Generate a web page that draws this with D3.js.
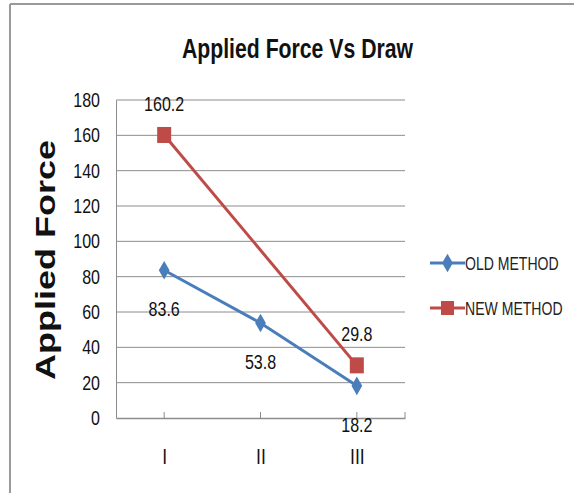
<!DOCTYPE html>
<html>
<head>
<meta charset="utf-8">
<script src="https://cdn.jsdelivr.net/npm/d3@7"></script>
<style>
  html, body { margin: 0; padding: 0; background: #fff; }
  svg { display: block; }
</style>
</head>
<body>
<svg id="chart" width="574" height="493"></svg>
<script>
// Chart data
const categories = ["I", "II", "III"];
const oldMethod = [83.6, 53.8, 18.2];
const newMethod = [160.2, null, 29.8];
const yTicks = [0, 20, 40, 60, 80, 100, 120, 140, 160, 180];
const seriesNames = ["OLD METHOD", "NEW METHOD"];

const SANS = "'Liberation Sans', Arial, sans-serif";
const BLUE = "#4a7ebb";
const RED = "#be4b48";

const svg = d3.select("#chart");

// Squeeze text horizontally to get a condensed look
function condense(sel, factor) {
  sel.each(function () {
    const w = this.getComputedTextLength();
    d3.select(this).attr("textLength", (w * factor).toFixed(1))
      .attr("lengthAdjust", "spacingAndGlyphs");
  });
}

// Outer frame (top and left edges)
svg.append("line").attr("x1", 10).attr("x2", 574).attr("y1", 4).attr("y2", 4)
  .attr("stroke", "#9a9a9a").attr("stroke-width", 2);
svg.append("line").attr("x1", 10).attr("x2", 10).attr("y1", 4).attr("y2", 493)
  .attr("stroke", "#9a9a9a").attr("stroke-width", 2);

const x = d3.scalePoint().domain(categories).range([116, 405]).padding(0.5);
const y = d3.scaleLinear().domain([0, 180]).range([418, 100]);

// Horizontal gridlines
svg.append("g").selectAll("line").data(yTicks.filter(t => t > 0)).join("line")
  .attr("x1", 116).attr("x2", 405)
  .attr("y1", d => y(d)).attr("y2", d => y(d))
  .attr("stroke", "#8c8c8c").attr("stroke-width", 1);

// Y axis
const yAxis = svg.append("g").attr("transform", "translate(116,0)")
  .call(d3.axisLeft(y).tickValues(yTicks).tickSize(0).tickPadding(16));
yAxis.select(".domain").attr("stroke", "#8c8c8c");
yAxis.selectAll("text").attr("font-family", SANS).attr("font-size", 20).attr("fill", "#111")
  .call(condense, 0.8);

// X axis with upward tick marks
const xAxis = svg.append("g").attr("transform", "translate(0,418)")
  .call(d3.axisBottom(x).tickSize(0).tickPadding(30));
xAxis.select(".domain").attr("stroke", "#8c8c8c").attr("stroke-width", 1.3);
xAxis.selectAll("text").attr("font-family", SANS).attr("font-size", 22).attr("fill", "#111")
  .call(condense, 0.8);
svg.append("g").selectAll("line").data(categories.map(c => x(c)).concat([405])).join("line")
  .attr("x1", d => d).attr("x2", d => d).attr("y1", 418).attr("y2", 412)
  .attr("stroke", "#8c8c8c").attr("stroke-width", 1);

// Title
svg.append("text").attr("x", 182).attr("y", 58)
  .attr("font-family", SANS).attr("font-weight", "bold").attr("font-size", 28)
  .attr("textLength", 231).attr("lengthAdjust", "spacingAndGlyphs")
  .attr("fill", "#111").text("Applied Force Vs Draw");

// Y axis title
svg.append("text").attr("transform", "translate(55,380) rotate(-90)")
  .attr("font-family", SANS).attr("font-weight", "bold")
  .attr("font-size", 28).attr("textLength", 240).attr("lengthAdjust", "spacingAndGlyphs")
  .attr("fill", "#111").text("Applied Force");

// Lines
const line = d3.line().x(d => x(d.c)).y(d => y(d.v));
const oldPts = categories.map((c, i) => ({ c, v: oldMethod[i] }));
const newPts = categories.map((c, i) => ({ c, v: newMethod[i] })).filter(d => d.v != null);

svg.append("path").datum(newPts).attr("d", line).attr("fill", "none")
  .attr("stroke", RED).attr("stroke-width", 3);
svg.append("path").datum(oldPts).attr("d", line).attr("fill", "none")
  .attr("stroke", BLUE).attr("stroke-width", 3);

// Markers
const diamond = d3.symbol().type(d3.symbolDiamond).size(100);
svg.append("g").selectAll("path").data(oldPts).join("path")
  .attr("d", diamond)
  .attr("transform", d => `translate(${x(d.c)},${y(d.v)})`)
  .attr("fill", BLUE);
svg.append("g").selectAll("rect").data(newPts).join("rect")
  .attr("x", d => x(d.c) - 7).attr("y", d => y(d.v) - 8)
  .attr("width", 14).attr("height", 16).attr("fill", RED);

// Data labels: old series below its points, new series above
function addLabels(pts, dy) {
  svg.append("g").selectAll("text").data(pts).join("text")
    .attr("x", d => x(d.c))
    .attr("y", d => y(d.v) + dy)
    .attr("text-anchor", "middle")
    .attr("font-family", SANS).attr("font-size", 20).attr("fill", "#111")
    .text(d => d.v.toFixed(1))
    .call(condense, 0.8);
}
addLabels(oldPts, 46);
addLabels(newPts, -24);

// Legend (text narrowed with a horizontal scale)
const legend = svg.append("g");
const legendRows = [
  { name: seriesNames[0], color: BLUE, y: 263, shape: "diamond" },
  { name: seriesNames[1], color: RED, y: 308, shape: "square" }
];
legendRows.forEach(r => {
  legend.append("line").attr("x1", 430).attr("x2", 465).attr("y1", r.y).attr("y2", r.y)
    .attr("stroke", r.color).attr("stroke-width", 3);
  if (r.shape === "diamond") {
    legend.append("path").attr("d", diamond).attr("transform", `translate(447.5,${r.y})`).attr("fill", r.color);
  } else {
    legend.append("rect").attr("x", 441).attr("y", r.y - 7).attr("width", 13).attr("height", 14).attr("fill", r.color);
  }
  legend.append("text")
    .attr("transform", `translate(465,${r.y + 7}) scale(0.74,1)`)
    .attr("font-family", SANS).attr("font-size", 19).attr("fill", "#222")
    .text(r.name);
});
</script>
</body>
</html>
